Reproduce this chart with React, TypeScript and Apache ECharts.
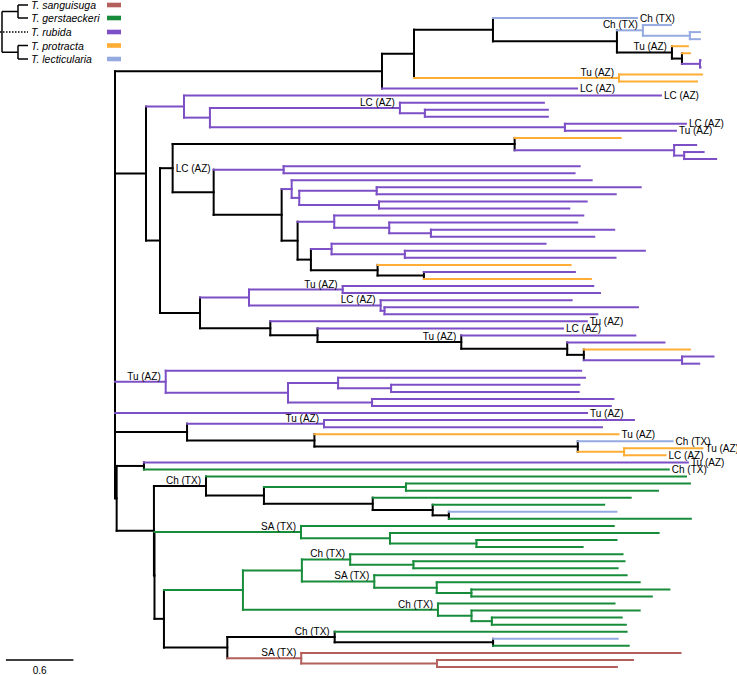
import React, { useEffect, useRef } from "react";
import * as echarts from "echarts";

// ---- legend / species ----
const SPECIES = ["T. sanguisuga", "T. gerstaeckeri", "T. rubida", "T. protracta", "T. lecticularia"];
const SPECIES_CODES = ["S", "G", "R", "P", "L"];
const SPECIES_COLORS = ["#B3605C", "#178C3B", "#7C4FC6", "#FFAD35", "#96AAE2"];

// ---- site annotations ----
const SITE_CODES = ["ch", "lc", "tu", "sa"];
const SITE_LABELS = ["Ch (TX)", "LC (AZ)", "Tu (AZ)", "SA (TX)"];

// ---- scale bar ----
const SCALE_BAR = 0.6;
const SCALE_BAR_X0 = -0.985;
const SCALE_BAR_ROW = 91;

// ---- tree (Newick, branch lengths in substitutions/site) ----
// leaf = species code [.site code]; internal label = site code ('^' = written to the right of node)
const CLADE_TOP =
  "((((L.ch:1.309,((L:0.255,(L:0.091,L:0.091):0.427)ch:0.236,(P:0.145,(P:0.073,(R:0.005,R:0.005):0.164):0.091)tu:0.5):1.127):0.718,(P:0.755,P:0.709)tu:1.864):0.291,R.lc:1.773):2.427";
const CLADE_A1 =
  "(R.lc:4.336,((R:1.309,(R:1.118,R:1.118):0.227)lc:1.727,(R.lc:1.1,R.tu:1.009):3.227):0.236):0.345";
const CLADE_A21 =
  "((P:0.964,(R:0.2,(R:0.177,R:0.291):0.091):1.45):3.109,((R:2.691,R:2.645):0.636,((R:2.727,((R:2.4,R:2.173):0.704,(R:1.888,R:1.73):0.725):0.069):0.091,((R:2.264,(R:1.709,(R:1.666,R:1.485):0.379):0.5):0.333,((R:1.945,(R:2.182,R:1.915):0.666):0.188,(P:1.755,(R:1.373,P:1.518):0.421):0.606):0.121):0.145):0.618):0.373)lc^:0.115";
const CLADE_A22 =
  "(((R:2.278,R:2.339)tu:0.852,(R:1.736,(R:2.304,R:1.935):0.035)lc:1.197):0.445,(R.tu:2.877,(R.lc:2.232,(R:1.582,(R:0.884,(P:0.965,(R:0.286,R:0.156):0.893):0.151):0.963)tu:1.307):0.429):0.639):0.364";
const CLADE_TU = "(R:3.777,((R:2.245,(R:1.712,R:1.705):0.482):0.455,(R:2.194,R:2.17):0.764):1.112)tu:0.461";
const LEAF_TU = "R.tu:4.291";
const CLADE_MIX =
  "((R:2.818,R:2.527)tu:1.245,(P.tu:2.765,(L.ch:0.862,(P.tu:0.712,P.lc:0.377):0.421):2.394):1.158):0.655";
const CLADE_CH =
  "(G:4.364,((G:2.582,G:2.291):1.291,(G:2.345,(G:1.559,(L:1.523,G:2.2):0.147):0.545):0.989):0.527)ch:0.473";
const CLADE_SA = "(G:2.843,(G:2.442,(G:1.273,G:0.965):0.786):0.809)sa:1.332";
const CLADE_G1 =
  "(((G:2.476,(G:1.919,G:1.856):0.575)ch:0.439,(G:2.294,(G:1.845,(G:1.8,G:1.64):0.315):0.568)sa:0.658):0.536,(G:1.605,(G:1.529,(G:1.18,G:1.218):0.185):0.305)ch:1.773):0.718";
const CLADE_G2 =
  "((G:2.654,(L:1.133,G:1.233):1.44)ch:0.976,(S:3.448,(S:1.782,S:1.636):1.234)sa:0.672):0.576";

const CLADE_A = "(" + CLADE_A1 + ",(" + CLADE_A21 + "," + CLADE_A22 + "):0.127):0.282";
const CLADE_LOWER =
  "((R.tu:4.945,G.ch:4.771):0.248,(" + CLADE_CH + ",(" + CLADE_SA + ",(" + CLADE_G1 + "," + CLADE_G2 + "):0.086):0.005):0.339):0.015";
const TREE = "(" + [CLADE_TOP, CLADE_A, CLADE_TU, LEAF_TU, CLADE_MIX, CLADE_LOWER].join(",") + ");";

type TNode = { name: string; len: number; children: TNode[]; x: number; y: number; color: string };

function parseNewick(s: string): TNode {
  let i = 0;
  const parseNode = (): TNode => {
    const node: TNode = { name: "", len: 0, children: [], x: 0, y: 0, color: "#000" };
    if (s[i] === "(") {
      i++;
      node.children.push(parseNode());
      while (s[i] === ",") {
        i++;
        node.children.push(parseNode());
      }
      i++;
    }
    let name = "";
    while (i < s.length && !",():;".includes(s[i])) name += s[i++];
    node.name = name;
    if (s[i] === ":") {
      i++;
      let num = "";
      while (i < s.length && !",();".includes(s[i])) num += s[i++];
      node.len = parseFloat(num);
    }
    return node;
  };
  return parseNode();
}

type Seg = { x1: number; y1: number; x2: number; y2: number; color: string; w: number };
type Lab = { x: number; y: number; text: string; kind: "tip" | "left" | "right" | "scale" };

function buildTree() {
  const root = parseNewick(TREE);
  let leaf = 0;
  const layout = (n: TNode, x: number) => {
    n.x = x;
    if (!n.children.length) {
      n.y = leaf++;
      const sp = n.name.split(".")[0];
      n.color = SPECIES_COLORS[SPECIES_CODES.indexOf(sp)] || "#000";
    } else {
      n.children.forEach((c) => layout(c, x + c.len));
      n.y = (n.children[0].y + n.children[n.children.length - 1].y) / 2;
      const cs = n.children.map((c) => c.color);
      n.color = cs.every((c) => c === cs[0]) ? cs[0] : "#000";
    }
  };
  layout(root, 0);
  const segs: Seg[] = [];
  const labs: Lab[] = [];
  const walk = (n: TNode, p: TNode | null) => {
    if (p) segs.push({ x1: p.x, y1: n.y, x2: n.x, y2: n.y, color: n.color, w: 2 });
    if (n.children.length) {
      const a = n.children[0], b = n.children[n.children.length - 1];
      segs.push({ x1: n.x, y1: a.y, x2: n.x, y2: b.y, color: n.color, w: 2 });
      if (n.name) {
        const right = n.name.endsWith("^");
        const code = n.name.replace("^", "");
        const k = SITE_CODES.indexOf(code);
        if (k >= 0) labs.push({ x: n.x, y: n.y, text: SITE_LABELS[k], kind: right ? "right" : "left" });
      }
      n.children.forEach((c) => walk(c, n));
    } else {
      const site = n.name.split(".")[1];
      const k = site ? SITE_CODES.indexOf(site) : -1;
      if (k >= 0) labs.push({ x: n.x, y: n.y, text: SITE_LABELS[k], kind: "tip" });
    }
  };
  walk(root, null);
  // black first, coloured on top
  segs.sort((s1, s2) => (s1.color === "#000" ? 0 : 1) - (s2.color === "#000" ? 0 : 1));
  segs.push({ x1: SCALE_BAR_X0, y1: SCALE_BAR_ROW, x2: SCALE_BAR_X0 + SCALE_BAR, y2: SCALE_BAR_ROW, color: "#000", w: 1.5 });
  labs.push({ x: SCALE_BAR_X0 + SCALE_BAR / 2, y: SCALE_BAR_ROW, text: String(SCALE_BAR), kind: "scale" });
  return { segs, labs, nLeaves: leaf };
}

const FONT = '"Liberation Sans", Arial, Helvetica, sans-serif';
const LEG_Y = [5, 18, 32, 45.5, 59];

function legendGraphic() {
  const ln = (x1: number, y1: number, x2: number, y2: number, dash?: number[]) => ({
    type: "line",
    shape: { x1, y1, x2, y2 },
    style: { stroke: "#000", lineWidth: 1.5, lineDash: dash || null },
  });
  const m01 = (LEG_Y[0] + LEG_Y[1]) / 2;
  const m34 = (LEG_Y[3] + LEG_Y[4]) / 2;
  const els: any[] = [
    ln(18, LEG_Y[0], 18, LEG_Y[1]),
    ln(18, LEG_Y[0], 28, LEG_Y[0]),
    ln(18, LEG_Y[1], 28, LEG_Y[1]),
    ln(2, m01, 18, m01),
    ln(2, m01, 2, m34),
    ln(2, m34, 18, m34),
    ln(18, LEG_Y[3], 18, LEG_Y[4]),
    ln(18, LEG_Y[3], 28, LEG_Y[3]),
    ln(18, LEG_Y[4], 28, LEG_Y[4]),
    ln(0, LEG_Y[2], 28, LEG_Y[2], [1.5, 1.5]),
  ];
  SPECIES.forEach((s, i) => {
    els.push({
      type: "text",
      x: 31,
      y: LEG_Y[i],
      style: { text: s, fill: "#000", font: "italic 10.5px " + FONT, verticalAlign: "middle", align: "left" },
    });
    els.push({
      type: "rect",
      shape: { x: 107, y: LEG_Y[i] - 2.3, width: 14, height: 4.6 },
      style: { fill: SPECIES_COLORS[i] },
    });
  });
  return els;
}

export default function App() {
  const ref = useRef<HTMLDivElement>(null);
  useEffect(() => {
    if (!ref.current) return;
    const chart = echarts.init(ref.current, null, { renderer: "svg" });
    const { segs, labs, nLeaves } = buildTree();
    chart.setOption({
      animation: false,
      backgroundColor: "#fff",
      grid: { left: 5, right: 6, top: 18, bottom: 8 },
      xAxis: { type: "value", min: -1, max: 5.6, show: false },
      yAxis: { type: "value", min: 0, max: nLeaves - 1, inverse: true, show: false },
      graphic: legendGraphic(),
      series: [
        {
          type: "custom",
          clip: false,
          data: segs.map((s) => [s.x1, s.y1, s.x2, s.y2]),
          encode: { x: [0, 2], y: [1, 3] },
          renderItem: (params: any, api: any) => {
            const s = segs[params.dataIndex];
            const p1 = api.coord([s.x1, s.y1]);
            const p2 = api.coord([s.x2, s.y2]);
            return {
              type: "line",
              shape: { x1: p1[0], y1: p1[1], x2: p2[0], y2: p2[1] },
              style: { stroke: s.color, lineWidth: s.w, lineCap: "square", fill: null },
            };
          },
        },
        {
          type: "custom",
          clip: false,
          data: labs.map((l) => [l.x, l.y]),
          encode: { x: 0, y: 1 },
          renderItem: (params: any, api: any) => {
            const l = labs[params.dataIndex];
            const p = api.coord([l.x, l.y]);
            let x = p[0], y = p[1], align = "left", va = "middle";
            if (l.kind === "tip") { x += 3; }
            else if (l.kind === "left") { x -= 5; y -= 0.5; align = "right"; va = "bottom"; }
            else if (l.kind === "right") { x += 3; }
            else { y += 6; align = "center"; va = "top"; }
            return {
              type: "text",
              x,
              y,
              style: { text: l.text, fill: "#000", font: "10px " + FONT, align, verticalAlign: va },
            };
          },
        },
      ],
    });
    return () => chart.dispose();
  }, []);
  return <div ref={ref} style={{ position: "fixed", left: 0, top: 0, width: 737, height: 675 }} />;
}
